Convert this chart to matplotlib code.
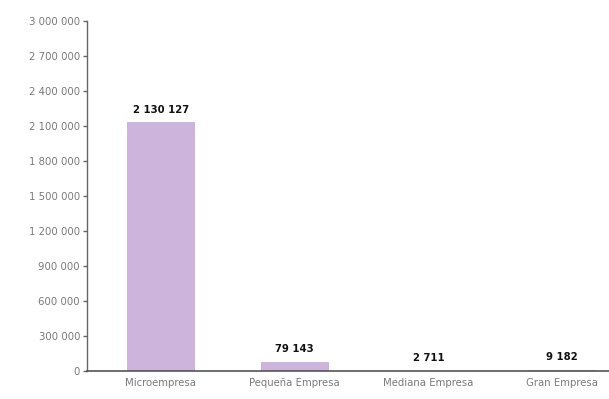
import matplotlib
matplotlib.use("Agg")
import matplotlib.pyplot as plt
import numpy as np

categories = ["Microempresa", "Pequeña Empresa", "Mediana Empresa", "Gran Empresa"]
values = [2130127, 79143, 2711, 9182]
yticks = [0, 300000, 600000, 900000, 1200000, 1500000, 1800000, 2100000, 2400000, 2700000, 3000000]

def fmt(v):
    return f"{v:,}".replace(",", " ")

plt.rcParams['font.family'] = ['DejaVu Sans']

fig = plt.figure(figsize=(6.09, 3.99), dpi=100)
ax = fig.add_axes([87/609, 1 - 371/399, 1 - 87/609, 350/399])

x = np.arange(len(categories))
bar_color = "#cdb4dd"
ax.bar(x, values, width=0.51, color=bar_color, edgecolor="none", zorder=2)

for xi, v in zip(x, values):
    ax.text(xi, v + 65000, fmt(v), ha="center", va="bottom", fontsize=7.3,
            fontweight="bold", color="#111111")

ax.set_xlim(-0.553, 3.35)
ax.set_ylim(0, 3000000)
ax.set_yticks(yticks)
ax.set_yticklabels([fmt(t) for t in yticks], fontsize=7.3, color="#7a7a7a")
ax.set_xticks(x)
ax.set_xticklabels(categories, fontsize=7.3, color="#7a7a7a")

for s in ["top", "right"]:
    ax.spines[s].set_visible(False)
ax.spines["left"].set_color("#666666")
ax.spines["bottom"].set_color("#555555")
ax.spines["left"].set_linewidth(1.0)
ax.spines["bottom"].set_linewidth(1.2)
ax.tick_params(axis="y", length=3, width=1, color="#666666", pad=2)
ax.tick_params(axis="x", length=0, pad=5)

fig.savefig("out.png", dpi=100)
